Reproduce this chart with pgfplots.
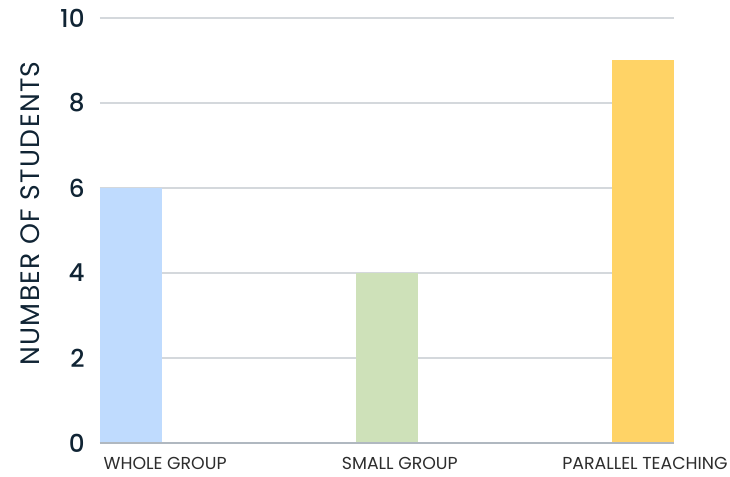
\documentclass[border=0pt]{standalone}
\usepackage{pgfplots}
\pgfplotsset{compat=1.18}
\usepackage{fontspec}
\setmainfont{Poppins}
\newfontfamily\spacedfont[LetterSpace=5]{Poppins}
\newfontfamily\tickfont{Poppins Medium}
\definecolor{barblue}{RGB}{191,219,254}
\definecolor{bargreen}{RGB}{206,225,185}
\definecolor{baryellow}{RGB}{255,211,102}
\definecolor{gridgray}{RGB}{212,216,220}
\definecolor{axisgray}{RGB}{176,184,192}
\definecolor{ticknavy}{RGB}{16,36,52}
\definecolor{labelgray}{RGB}{45,45,45}
\begin{document}
\begin{tikzpicture}
\path[use as bounding box] (-75pt,-25.5pt) rectangle (472.5pt,332.25pt);
\begin{axis}[
  at={(0,0)}, anchor=south west,
  scale only axis,
  width=430.5pt, height=318.75pt,
  ymin=0, ymax=10,
  ytick={0,2,4,6,8,10},
  xmin=-0.1213, xmax=2.1213,
  xtick={0.133,1.05,2.008},
  xticklabels={WHOLE GROUP,SMALL GROUP,PARALLEL TEACHING},
  x tick label style={font=\fontsize{13}{15}\selectfont, text=labelgray, anchor=base, yshift=-20pt},
  y tick label style={font=\tickfont\fontsize{18.5}{20}\selectfont, text=ticknavy},
  /pgf/number format/assume math mode=true,
  yticklabel style={xshift=-8pt},
  major tick length=0pt,
  ymajorgrids,
  grid style={gridgray, line width=0.9pt},
  axis line style={draw=none},
  ylabel={NUMBER OF STUDENTS},
  every axis y label/.style={at={(axis description cs:0,0.5)}, rotate=90, anchor=center,
    xshift=12.75pt, yshift=52pt, font=\spacedfont\fontsize{20}{22}\selectfont, text=ticknavy},
  clip=false,
]
\addplot[ybar, bar width=47pt, draw=none, fill=barblue, bar shift=0pt] coordinates {(0,6)};
\addplot[ybar, bar width=47pt, draw=none, fill=bargreen, bar shift=0pt] coordinates {(1,4)};
\addplot[ybar, bar width=47pt, draw=none, fill=baryellow, bar shift=0pt] coordinates {(2,9)};
\draw[axisgray, line width=1.2pt] (axis cs:-0.1213,0) -- (axis cs:2.1213,0);
\end{axis}
\end{tikzpicture}
\end{document}
